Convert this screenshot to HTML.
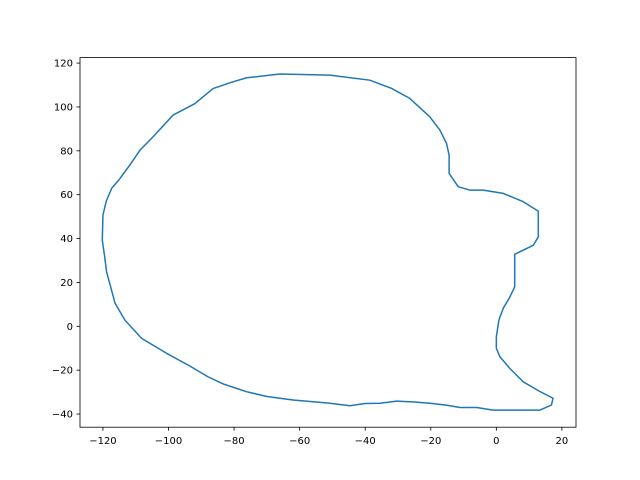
<!DOCTYPE html>
<html><head><meta charset="utf-8"><style>
body{margin:0;background:#fff;}
svg{display:block;}
text{font-family:"DejaVu Sans","Liberation Sans",sans-serif;font-size:10px;fill:#000;}
</style></head><body>
<svg id="chart" width="640" height="480" viewBox="0 0 640 480">
<rect x="0" y="0" width="640" height="480" fill="#fff"/>
<g id="plot"></g>
</svg>
<script>
const xs = [-120,-119,-117.3,-115,-111.8,-108.7,-104.7,-98.6,-92,-86.4,-81.3,-76.2,-66,-50.8,-38.6,-32,-26.4,-20.3,-17.2,-15.2,-14.4,-14.4,-11.6,-8.1,-4,2.1,8.2,12.8,12.8,11.3,5.6,5.6,5.6,4,2.1,0.8,0,0,1.1,4,8.2,13,17.3,16.8,13.3,-1,-6,-11.1,-15,-20.3,-25,-30.4,-35.5,-40,-44.7,-50.8,-53.8,-62,-70,-76.2,-83.3,-88,-93.5,-100.6,-108.2,-113.3,-116.3,-118.9,-119.5,-120.2,-120];
const ys = [50.7,57,63,67,73.5,80.3,86.4,96.3,101.5,108.4,111,113.3,115,114.5,112.2,108.5,103.9,95.5,89.4,83.4,78,69.7,63.6,62.1,62.1,60.6,56.8,52.5,40.8,37,32.8,24,18,13,8.2,3,-4.8,-10,-13.9,-19,-25.3,-29.5,-32.8,-35.9,-38.2,-38.2,-37,-37,-36,-35.1,-34.5,-34.1,-35.1,-35.2,-36.2,-35.1,-34.7,-33.6,-32,-29.8,-26.3,-23,-18.1,-12.3,-5.5,2.8,10.5,24.9,32,39.3,50.7];
const xTicks = [-120,-100,-80,-60,-40,-20,0,20];
const yTicks = [-40,-20,0,20,40,60,80,100,120];
const L=80,R=576,T=57.6,B=427.2;
const xMin=-127.0,xMax=24.3,yMin=-46.0,yMax=122.5;
function sx(v){return L+(v-xMin)/(xMax-xMin)*(R-L);}
function sy(v){return B-(v-yMin)/(yMax-yMin)*(B-T);}
const NS="http://www.w3.org/2000/svg";
const g=document.getElementById('plot');
function mk(tag,attrs){const e=document.createElementNS(NS,tag);for(const k in attrs)e.setAttribute(k,attrs[k]);g.appendChild(e);return e;}
let d='';
for(let i=0;i<xs.length;i++){d+=(i?'L':'M')+sx(xs[i]).toFixed(2)+','+sy(ys[i]).toFixed(2);}
const line=mk('path',{d:d,fill:'none',stroke:'#1f77b4','stroke-width':1.5,'stroke-linejoin':'round'});


const frame=mk('rect',{x:L,y:T,width:R-L,height:B-T,fill:'none',stroke:'#000','stroke-width':0.8});


xTicks.forEach(v=>{
  const x=sx(v);
  const t=mk('line',{x1:x,x2:x,y1:B,y2:B+3.5,stroke:'#000','stroke-width':0.8});
  
  
  const lb=mk('text',{x:x,y:B+17,'text-anchor':'middle'});
  lb.textContent=(v<0?'\u2212'+(-v):v);
  
  
});
yTicks.forEach(v=>{
  const y=sy(v);
  const t=mk('line',{x1:L-3.5,x2:L,y1:y,y2:y,stroke:'#000','stroke-width':0.8});
  
  
  const lb=mk('text',{x:L-7,y:y+3.5,'text-anchor':'end'});
  lb.textContent=(v<0?'\u2212'+(-v):v);
  
  
});
</script>
</body></html>
